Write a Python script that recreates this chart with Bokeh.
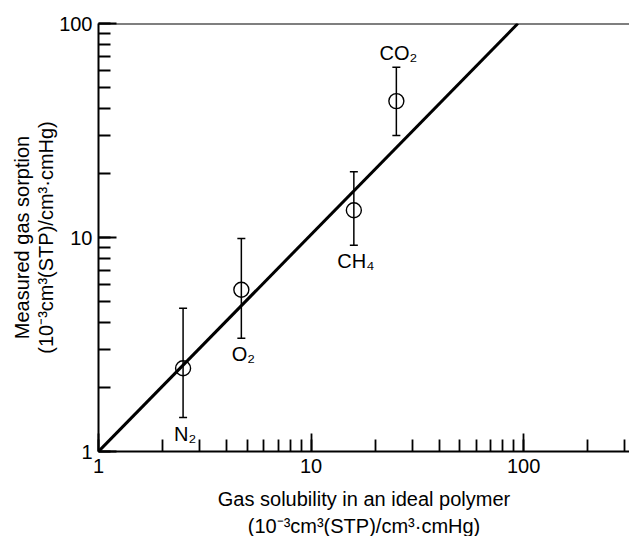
from bokeh.plotting import figure
from bokeh.models import (Range1d, Span, Whisker, TeeHead, ColumnDataSource,
                          LabelSet, LogTicker, Title)
from bokeh.core.properties import value
from bokeh.embed import file_html
from bokeh.resources import INLINE

# ---- data ----
gases = ["N₂", "O₂", "CH₄", "CO₂"]
ideal_solubility = [2.5, 4.7, 15.9, 25.2]
measured_sorption = [2.45, 5.7, 13.4, 43.4]
sorption_low = [1.44, 3.38, 9.2, 30.0]
sorption_high = [4.67, 9.9, 20.3, 62.4]
label_side = ["below", "below", "below", "above"]

fit_x = [1, 94]
fit_y = [1, 100]

tick_values = [1, 10, 100]
tick_labels = ["1", "10", "100"]

x_label_lines = ["Gas solubility in an ideal polymer", "(10⁻³cm³(STP)/cm³·cmHg)"]
y_label_lines = ["Measured gas sorption", "(10⁻³cm³(STP)/cm³·cmHg)"]

FONT = "Liberation Sans"

p = figure(width=629, height=536, x_axis_type="log", y_axis_type="log",
           x_range=Range1d(1, 315), y_range=Range1d(1, 100),
           output_backend="svg", toolbar_location=None,
           min_border_left=98, min_border_right=0, min_border_top=23,
           min_border_bottom=84)
p.outline_line_color = None
p.grid.visible = False
p.background_fill_color = "white"
p.border_fill_color = "white"

for ax in (p.xaxis[0], p.yaxis[0]):
    ax.ticker = LogTicker(num_minor_ticks=10)
    ax.major_label_overrides = dict(zip(tick_values, tick_labels))
    ax.major_tick_in = 18
    ax.major_tick_out = 0
    ax.minor_tick_in = 12
    ax.minor_tick_out = 0
    ax.axis_line_width = 2
    ax.major_tick_line_width = 1.8
    ax.minor_tick_line_width = 1.8
    ax.axis_line_color = "black"
    ax.major_tick_line_color = "black"
    ax.minor_tick_line_color = "black"
    ax.major_label_text_font = FONT
    ax.major_label_text_font_size = "20px"
    ax.major_label_text_color = "black"
    ax.major_label_standoff = 6

# first line of the x title is the axis label, second line a title below it
xax = p.xaxis[0]
xax.major_label_standoff = 7
xax.axis_label = x_label_lines[0]
xax.axis_label_standoff = 12
xax.axis_label_text_font = FONT
xax.axis_label_text_font_size = "20px"
xax.axis_label_text_font_style = "normal"
xax.axis_label_text_color = "black"

p.add_layout(Title(text=x_label_lines[1], align="center", text_font=FONT,
                   text_font_size="20px", text_font_style="normal",
                   text_color="black", standoff=0), "below")

p.add_layout(Span(location=100, dimension="width", line_color="black", line_width=2))

# fit line
p.line(fit_x, fit_y, line_color="black", line_width=3)

src = ColumnDataSource(dict(x=ideal_solubility, y=measured_sorption,
                            lo=sorption_low, hi=sorption_high, name=gases))

w = Whisker(source=src, base="x", lower="lo", upper="hi", dimension="height",
            line_color="black", line_width=1.5,
            upper_head=TeeHead(size=8, line_color="black", line_width=1.5),
            lower_head=TeeHead(size=8, line_color="black", line_width=1.5))
p.add_layout(w)

p.scatter("x", "y", source=src, marker="circle", size=15, fill_color=None,
          line_color="black", line_width=1.4)

below = ColumnDataSource(dict(
    x=[x for x, s in zip(ideal_solubility, label_side) if s == "below"],
    y=[y for y, s in zip(sorption_low, label_side) if s == "below"],
    t=[g for g, s in zip(gases, label_side) if s == "below"]))
above = ColumnDataSource(dict(
    x=[x for x, s in zip(ideal_solubility, label_side) if s == "above"],
    y=[y for y, s in zip(sorption_high, label_side) if s == "above"],
    t=[g for g, s in zip(gases, label_side) if s == "above"]))

p.add_layout(LabelSet(source=below, x="x", y="y", text="t", x_offset=2, y_offset=-5,
                      text_align="center", text_baseline="top",
                      text_font=value(FONT), text_font_size="20px", text_color="black"))
p.add_layout(LabelSet(source=above, x="x", y="y", text="t", x_offset=2, y_offset=3,
                      text_align="center", text_baseline="bottom",
                      text_font=value(FONT), text_font_size="20px", text_color="black"))

# y title: two stacked rotated titles in the left panel
for line in reversed(y_label_lines):
    p.add_layout(Title(text=line, align="center", offset=27, text_font=FONT,
                       text_font_size="20px", text_font_style="normal",
                       text_color="black", standoff=0),
                 "left")

open("out.html", "w").write(file_html(p, INLINE))
